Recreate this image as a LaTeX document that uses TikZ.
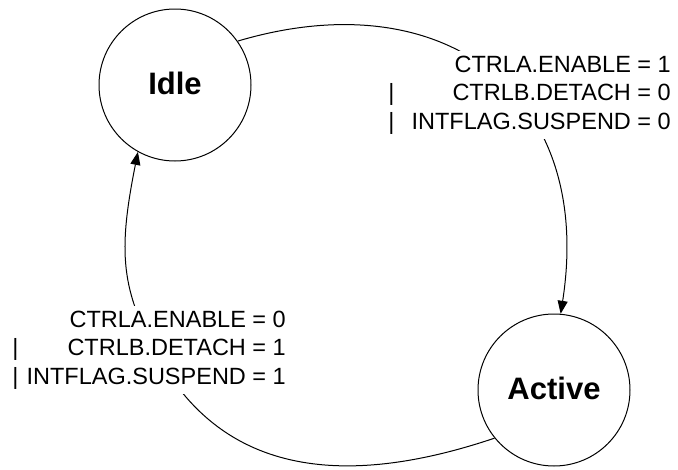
\documentclass[tikz,border=0pt]{standalone}
\usepackage{fontspec}
\setmainfont{Liberation Sans}
\usetikzlibrary{arrows.meta}
\begin{document}
\begin{tikzpicture}[x=1pt,y=-1pt,
  state/.style={circle,draw,line width=1pt,minimum size=152pt,inner sep=0pt,
    font=\fontsize{31}{37}\selectfont\bfseries,text depth=4pt},
  trans/.style={line width=1pt,-{Triangle[length=13pt,width=10pt]}},
  cond/.style={fill=white,inner sep=1pt,font=\fontsize{23.5}{28.5}\selectfont,anchor=east}]
\useasboundingbox (0,0) rectangle (678,469);
\node[state] (idle) at (175,85) {Idle};
\node[state] (active) at (554,390) {Active};
\draw[trans] (idle.35) .. controls (443,-20) and (595,93) .. (active.85.5);
\coordinate (j) at (160,360);
\draw[trans] (active.219) .. controls (305,502) and (210,447) .. (j)
  .. controls (120,290) and (118,252) .. (idle.241);
\node[cond] (c1) at (672,95) {\begin{tabular}{@{}l@{\hspace{17pt}}r@{}}
 & CTRLA.ENABLE = 1\\
| & CTRLB.DETACH = 0\\
| & INTFLAG.SUSPEND = 0
\end{tabular}};
\node[cond] (c2) at (287,350) {\begin{tabular}{@{}l@{\hspace{8pt}}r@{}}
 & CTRLA.ENABLE = 0\\
| & CTRLB.DETACH = 1\\
| & INTFLAG.SUSPEND = 1
\end{tabular}};
\end{tikzpicture}
\end{document}
